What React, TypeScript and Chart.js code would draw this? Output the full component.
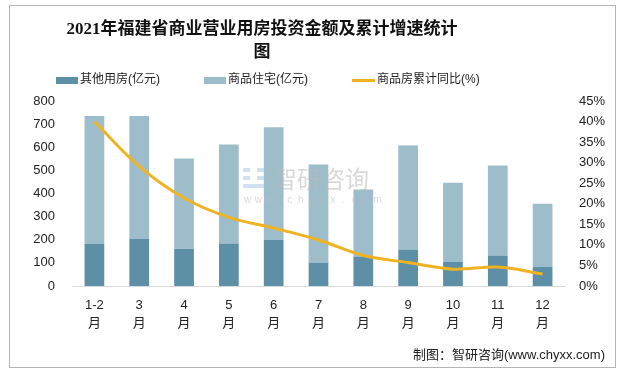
import React, { useEffect, useRef } from "react";
import { Chart, registerables } from "chart.js";

Chart.register(...registerables);

const categories: string[][] = [
  ["1-2", "月"], ["3", "月"], ["4", "月"], ["5", "月"], ["6", "月"], ["7", "月"],
  ["8", "月"], ["9", "月"], ["10", "月"], ["11", "月"], ["12", "月"],
];
const otherHousing: number[] = [182, 204, 161, 182, 200, 100, 127, 156, 104, 130, 82];
const residential: number[] = [553, 531, 390, 430, 486, 425, 290, 452, 343, 391, 274];
const yoyGrowth: number[] = [40.0, 29.1, 21.4, 16.7, 14.1, 11.2, 7.4, 5.7, 4.1, 4.6, 2.9];

const titleLines: string[] = ["2021年福建省商业营业用房投资金额及累计增速统计", "图"];
const seriesNames: string[] = ["其他用房(亿元)", "商品住宅(亿元)", "商品房累计同比(%)"];
const sourceText = "制图：智研咨询(www.chyxx.com)";

const DARK = "#5d8fa7";
const LIGHT = "#9ebdcb";
const ORANGE = "#efb222";
const FONT = "'Liberation Sans', 'Noto Sans CJK SC', sans-serif";

const decorPlugin = {
  id: "decor",
  afterDatasetsDraw(chart: any) {
    const ctx = chart.ctx as CanvasRenderingContext2D;
    ctx.save();
    // watermark
    ctx.globalAlpha = 0.55;
    ctx.fillStyle = "#b9b9b9";
    ctx.font = "24px 'Noto Sans CJK SC', sans-serif";
    ctx.textAlign = "left";
    ctx.textBaseline = "middle";
    ctx.fillText("智研咨询", 273, 179);
    ctx.font = "10px 'Liberation Sans', sans-serif";
    const wm = "www.chyxx.com";
    let x = 244;
    for (const ch of wm) {
      ctx.fillText(ch, x, 200);
      x += 10.8;
    }
    ctx.fillStyle = "#a9c9e6";
    ctx.fillRect(243, 168, 7, 4);
    ctx.fillRect(257, 168, 7, 4);
    ctx.fillRect(243, 176, 7, 4);
    ctx.fillRect(257, 176, 7, 4);
    ctx.fillRect(243, 184, 21, 4);
    ctx.restore();
  },
  afterDraw(chart: any) {
    const ctx = chart.ctx as CanvasRenderingContext2D;
    ctx.save();
    // title
    ctx.fillStyle = "#111";
    ctx.font = "bold 17px 'Liberation Serif', 'Noto Sans CJK SC', serif";
    ctx.textAlign = "center";
    ctx.textBaseline = "middle";
    ctx.fillText(titleLines[0], 262, 30);
    ctx.fillText(titleLines[1], 262, 53);

    // legend
    ctx.font = "12px " + FONT;
    ctx.textAlign = "left";
    ctx.fillStyle = DARK;
    ctx.fillRect(56, 77, 22, 7);
    ctx.fillStyle = LIGHT;
    ctx.fillRect(204, 77, 22, 7);
    ctx.fillStyle = ORANGE;
    ctx.fillRect(352, 79, 23, 3);
    ctx.fillStyle = "#222";
    ctx.fillText(seriesNames[0], 80, 80);
    ctx.fillText(seriesNames[1], 228, 80);
    ctx.fillText(seriesNames[2], 377, 80);

    // source
    ctx.font = "13px " + FONT;
    ctx.textAlign = "right";
    ctx.fillStyle = "#222";
    ctx.fillText(sourceText, 605, 355);
    ctx.restore();
  },
};

export default function App() {
  const ref = useRef<HTMLCanvasElement | null>(null);

  useEffect(() => {
    if (!ref.current) return;
    const chart = new Chart(ref.current, {
      type: "bar",
      data: {
        labels: categories,
        datasets: [
          {
            type: "bar",
            label: seriesNames[0],
            data: otherHousing,
            backgroundColor: DARK,
            yAxisID: "y",
            stack: "s",
            order: 1,
            barPercentage: 0.44,
            categoryPercentage: 1,
          },
          {
            type: "bar",
            label: seriesNames[1],
            data: residential,
            backgroundColor: LIGHT,
            yAxisID: "y",
            stack: "s",
            order: 1,
            barPercentage: 0.44,
            categoryPercentage: 1,
          },
          {
            type: "line",
            label: seriesNames[2],
            data: yoyGrowth,
            borderColor: ORANGE,
            backgroundColor: ORANGE,
            borderWidth: 3,
            pointRadius: 0,
            tension: 0.35,
            yAxisID: "y1",
            order: 0,
          } as any,
        ],
      },
      options: {
        responsive: false,
        animation: false,
        devicePixelRatio: 1,
        layout: { padding: { top: 101, left: 0, right: 0, bottom: 0 } },
        plugins: {
          legend: { display: false },
          title: { display: false },
          tooltip: { enabled: false },
        },
        scales: {
          x: {
            stacked: true,
            grid: { display: false, drawTicks: false },
            border: { display: true, color: "#d9d9d9", width: 1 },
            ticks: {
              color: "#222",
              font: { family: FONT, size: 13, lineHeight: 1.4 },
              padding: 10,
              maxRotation: 0,
              autoSkip: false,
            },
            afterFit: (s: any) => {
              s.height = 88;
            },
          },
          y: {
            stacked: true,
            position: "left",
            min: 0,
            max: 800,
            grid: { display: false, drawTicks: false },
            border: { display: false },
            ticks: {
              stepSize: 100,
              color: "#222",
              font: { family: FONT, size: 13 },
              padding: 17,
            },
            afterFit: (s: any) => {
              s.width = 72;
            },
          },
          y1: {
            position: "right",
            min: 0,
            max: 45,
            grid: { display: false, drawTicks: false },
            border: { display: false },
            ticks: {
              stepSize: 5,
              color: "#222",
              font: { family: FONT, size: 13 },
              padding: 14,
              callback: (v: any) => v + "%",
            },
            afterFit: (s: any) => {
              s.width = 60;
            },
          },
        },
      },
      plugins: [decorPlugin],
    });
    return () => chart.destroy();
  }, []);

  return (
    <div style={{ position: "fixed", left: 0, top: 0, width: 625, height: 374, background: "#fff" }}>
      <canvas ref={ref} width={625} height={374} style={{ position: "absolute", left: 0, top: 0 }} />
      <div
        style={{
          position: "absolute",
          left: 9,
          top: 5,
          width: 605,
          height: 361,
          border: "1px solid #b4b4b4",
          pointerEvents: "none",
        }}
      />
    </div>
  );
}
